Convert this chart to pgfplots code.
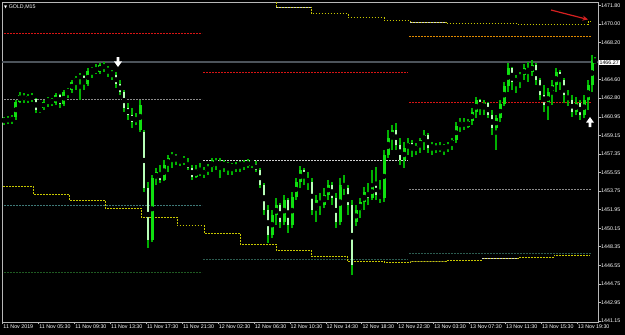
\documentclass[border=0pt]{standalone}
\usepackage{fontspec}
\setmainfont{Liberation Sans}
\newfontfamily\dejavu{DejaVu Sans}
\usepackage{pgfplots}
\pgfplotsset{compat=1.18}
\usepackage{pgfplotstable}
\usetikzlibrary{arrows.meta}

\definecolor{wick}{HTML}{00B000}
\definecolor{bullbody}{HTML}{10E010}
\definecolor{bearbody}{HTML}{B8FFB8}
\definecolor{frame}{HTML}{B8B8B8}
\definecolor{bidline}{HTML}{4C535A}
\definecolor{lvred}{HTML}{D81414}
\definecolor{lvgray}{HTML}{8A8A8A}
\definecolor{lvwhite}{HTML}{D0D0D0}
\definecolor{lvteal}{HTML}{3F7A78}
\definecolor{lvteal2}{HTML}{2C5C50}
\definecolor{lvdkgreen}{HTML}{1F5A22}
\definecolor{lvorange}{HTML}{E08A00}
\definecolor{stepyel}{HTML}{C8C800}
\definecolor{stepdim}{HTML}{6E6E22}
\definecolor{arrowred}{HTML}{D42020}

\pgfdeclareplotmark{dnarrow}{%
  \pgfpathmoveto{\pgfqpoint{-1.3pt}{5pt}}%
  \pgfpathlineto{\pgfqpoint{1.3pt}{5pt}}%
  \pgfpathlineto{\pgfqpoint{1.3pt}{0.6pt}}%
  \pgfpathlineto{\pgfqpoint{4pt}{0.6pt}}%
  \pgfpathlineto{\pgfqpoint{0pt}{-5pt}}%
  \pgfpathlineto{\pgfqpoint{-4pt}{0.6pt}}%
  \pgfpathlineto{\pgfqpoint{-1.3pt}{0.6pt}}%
  \pgfpathclose\pgfusepathqfill}
\pgfdeclareplotmark{uparrow}{%
  \pgfpathmoveto{\pgfqpoint{-1.3pt}{-5pt}}%
  \pgfpathlineto{\pgfqpoint{1.3pt}{-5pt}}%
  \pgfpathlineto{\pgfqpoint{1.3pt}{-0.6pt}}%
  \pgfpathlineto{\pgfqpoint{4pt}{-0.6pt}}%
  \pgfpathlineto{\pgfqpoint{0pt}{5pt}}%
  \pgfpathlineto{\pgfqpoint{-4pt}{-0.6pt}}%
  \pgfpathlineto{\pgfqpoint{-1.3pt}{-0.6pt}}%
  \pgfpathclose\pgfusepathqfill}

\pgfplotstableread{
x o h l c
4 1460.47 1460.95 1460.17 1460.85
8 1460.76 1461.05 1460.27 1460.56
12 1460.56 1461.14 1460.27 1460.95
16 1460.95 1462.60 1460.66 1462.41
20 1462.41 1463.38 1462.31 1463.09
24 1463.09 1463.28 1462.31 1462.60
28 1462.60 1463.18 1462.31 1462.99
32 1462.99 1463.28 1462.41 1462.70
36 1462.70 1462.80 1461.34 1461.63
40 1461.63 1461.92 1461.34 1461.82
44 1461.82 1462.60 1461.63 1462.41
48 1462.41 1462.89 1461.92 1462.70
52 1462.70 1462.80 1462.02 1462.31
56 1462.31 1463.28 1462.12 1463.09
60 1463.09 1463.18 1461.82 1462.21
64 1462.21 1463.57 1462.02 1463.38
68 1463.38 1463.77 1462.80 1463.57
72 1463.57 1464.54 1463.28 1464.35
76 1464.35 1464.93 1463.57 1464.74
80 1464.74 1465.22 1462.60 1464.93
84 1464.93 1465.03 1463.57 1464.15
88 1464.15 1465.71 1463.96 1465.42
92 1465.42 1465.80 1464.74 1465.61
96 1465.61 1466.10 1465.12 1465.32
100 1465.32 1466.19 1465.12 1466.00
104 1466.00 1466.29 1465.32 1465.71
108 1465.71 1465.90 1464.83 1465.32
112 1465.32 1465.51 1464.54 1465.03
116 1465.03 1465.32 1463.77 1464.15
120 1464.15 1464.54 1463.09 1463.38
124 1463.38 1463.57 1461.44 1461.82
128 1461.82 1462.31 1460.66 1461.14
132 1461.14 1461.82 1459.88 1460.47
136 1460.47 1461.34 1460.17 1460.85
140 1459.69 1462.60 1459.49 1462.12
144 1459.49 1459.69 1453.67 1454.06
148 1454.06 1454.64 1448.23 1449.01
152 1449.01 1455.32 1448.81 1455.03
156 1455.03 1456.00 1454.35 1455.61
160 1455.61 1456.29 1454.54 1454.83
164 1454.83 1456.77 1454.74 1456.29
168 1456.29 1457.26 1455.61 1456.97
172 1456.97 1457.55 1456.00 1457.26
176 1457.26 1457.36 1456.29 1456.77
180 1456.77 1457.07 1456.19 1456.97
184 1456.97 1457.16 1456.29 1456.58
188 1456.58 1456.97 1455.80 1456.00
192 1456.00 1456.29 1454.83 1455.12
196 1455.12 1456.29 1455.03 1455.80
200 1455.80 1456.48 1455.22 1455.42
204 1455.42 1456.09 1455.03 1455.80
208 1455.80 1456.38 1455.32 1456.09
212 1456.09 1456.97 1455.61 1456.77
216 1456.77 1456.97 1455.80 1456.29
220 1456.29 1456.97 1455.03 1456.58
224 1456.58 1456.77 1455.61 1456.19
228 1456.19 1456.58 1455.32 1456.38
232 1456.38 1456.48 1455.32 1456.00
236 1456.00 1456.58 1455.61 1456.29
240 1456.29 1456.68 1455.61 1456.48
244 1456.48 1456.77 1455.80 1456.19
248 1456.19 1456.87 1456.00 1456.68
252 1456.68 1456.77 1456.00 1456.38
256 1456.38 1456.68 1455.61 1455.80
260 1455.80 1456.00 1454.06 1454.35
264 1454.35 1454.54 1451.43 1451.92
268 1451.92 1452.40 1448.71 1449.49
272 1449.49 1451.92 1449.20 1451.43
276 1451.43 1453.08 1450.46 1452.40
280 1452.40 1452.60 1450.17 1450.75
284 1450.75 1453.38 1450.46 1452.89
288 1452.89 1453.08 1449.69 1450.46
292 1450.46 1453.67 1450.17 1453.18
296 1453.18 1455.03 1452.89 1454.64
300 1454.64 1456.19 1454.06 1455.80
304 1455.80 1456.00 1454.35 1455.03
308 1455.03 1455.61 1453.86 1454.64
312 1454.64 1455.03 1451.43 1451.92
316 1451.92 1453.38 1450.75 1452.89
320 1452.89 1453.57 1451.43 1452.40
324 1452.40 1454.06 1452.11 1453.38
328 1453.38 1454.83 1452.89 1454.35
332 1454.35 1454.64 1452.40 1453.08
336 1453.08 1453.57 1450.17 1450.75
340 1450.75 1455.03 1450.46 1454.35
344 1454.35 1455.32 1453.38 1454.06
348 1454.06 1454.35 1451.43 1452.40
352 1452.40 1452.89 1445.61 1446.58
356 1450.75 1452.40 1450.37 1451.92
360 1451.92 1453.08 1451.14 1452.70
364 1452.70 1454.15 1451.92 1453.67
368 1453.67 1454.54 1452.40 1453.08
372 1453.08 1455.80 1452.89 1454.35
376 1454.35 1456.09 1452.89 1453.38
380 1453.38 1454.83 1452.60 1453.08
384 1453.08 1457.75 1452.70 1457.26
388 1457.26 1459.69 1456.97 1458.91
392 1458.91 1460.17 1457.75 1459.69
396 1459.69 1460.37 1457.75 1458.23
400 1458.23 1458.91 1456.29 1456.77
404 1456.77 1458.52 1456.00 1457.94
408 1457.94 1458.91 1457.26 1458.43
412 1458.43 1458.72 1457.07 1457.75
416 1457.75 1458.43 1457.26 1458.13
420 1458.13 1458.91 1457.45 1458.72
424 1458.72 1459.69 1457.75 1459.20
428 1459.20 1459.40 1457.45 1457.94
432 1457.94 1458.52 1457.26 1458.23
436 1458.23 1458.43 1457.45 1457.75
440 1457.75 1458.52 1457.55 1458.13
444 1458.13 1458.33 1457.26 1457.94
448 1457.94 1458.52 1457.55 1458.23
452 1458.23 1458.91 1457.75 1458.72
456 1458.72 1460.46 1458.43 1460.08
460 1460.08 1460.85 1459.49 1460.46
464 1460.46 1460.85 1459.69 1459.98
468 1459.98 1460.76 1459.88 1460.56
472 1460.56 1461.82 1460.17 1461.44
476 1461.44 1462.89 1460.85 1462.60
480 1462.60 1462.70 1461.14 1461.82
484 1461.82 1462.60 1461.14 1462.31
488 1462.31 1462.41 1460.85 1461.14
492 1461.14 1461.63 1459.20 1459.88
496 1459.88 1461.14 1457.75 1460.85
500 1460.85 1462.60 1460.46 1462.21
504 1462.21 1464.35 1462.02 1463.96
508 1463.96 1466.19 1463.38 1465.71
512 1465.71 1465.80 1463.57 1464.35
516 1464.35 1465.03 1463.28 1464.74
520 1464.74 1465.32 1463.77 1465.03
524 1465.03 1466.10 1464.54 1465.71
528 1465.71 1466.29 1464.35 1465.32
532 1465.32 1466.48 1464.93 1466.00
536 1466.00 1466.19 1464.06 1464.54
540 1464.54 1464.74 1462.60 1463.09
544 1463.09 1464.06 1461.44 1462.12
548 1462.12 1463.77 1460.66 1463.38
552 1463.38 1464.54 1462.12 1464.06
556 1464.06 1465.71 1463.38 1465.32
560 1465.32 1465.51 1463.57 1464.54
564 1464.54 1464.74 1462.31 1463.09
568 1463.09 1463.57 1462.02 1462.60
572 1462.60 1463.09 1460.95 1461.44
576 1461.44 1462.89 1461.14 1462.31
580 1462.31 1462.60 1460.66 1461.14
584 1461.14 1463.09 1460.85 1462.60
588 1462.60 1464.54 1461.63 1464.06
592 1464.06 1466.97 1463.38 1466.48
595 1466.48 1466.78 1466.10 1466.27
}\candles

\tikzset{lev/.style={line width=0.9pt, dash pattern=on 1.6pt off 1.4pt},
         stp/.style={line width=0.9pt, dash pattern=on 1.6pt off 1.4pt}}

\begin{document}
\begin{tikzpicture}
\useasboundingbox (0,0) rectangle (625pt,335pt);
\clip (0,0) rectangle (625pt,335pt);
\fill[black] (0,0) rectangle (625pt,335pt);
\begin{axis}[
  at={(2pt,13pt)}, anchor=south west,
  scale only axis, width=596pt, height=320pt,
  xmin=2, xmax=598, ymin=1441.04, ymax=1472.12,
  axis background/.style={fill=black},
  axis line style={draw=frame, line width=0.9pt},
  tick style={draw=frame, line width=0.6pt},
  tick align=outside, major tick length=2.5pt,
  xtick pos=bottom, ytick pos=right, yticklabel pos=right,
  xtick={2.7,38.6,74.5,110.4,146.3,182.2,218.1,254,289.9,325.8,361.7,397.6,433.5,469.4,505.3,541.2,577.1},
  xticklabels={11 Nov 2019,11 Nov 05:30,11 Nov 09:30,11 Nov 13:30,11 Nov 17:30,11 Nov 21:30,12 Nov 02:30,12 Nov 06:30,12 Nov 10:30,12 Nov 14:30,12 Nov 18:30,12 Nov 22:30,13 Nov 03:30,13 Nov 07:30,13 Nov 11:30,13 Nov 15:30,13 Nov 19:30},
  xticklabel style={font=\fontsize{5.3}{6}\selectfont, text=white, anchor=north west, inner sep=0pt, xshift=0.6pt, yshift=-0.5pt},
  ytick={1471.80,1470.00,1468.20,1464.60,1462.80,1460.95,1459.15,1457.35,1455.55,1453.75,1451.95,1450.15,1448.35,1446.55,1444.75,1442.95,1441.15},
  yticklabels={1471.80,1470.00,1468.20,1464.60,1462.80,1460.95,1459.15,1457.35,1455.55,1453.75,1451.95,1450.15,1448.35,1446.55,1444.75,1442.95,1441.15},
  yticklabel style={font=\fontsize{5.3}{6}\selectfont, text=white, anchor=west, inner sep=0pt, xshift=0.5pt},
]
% --- daily levels ---
\addplot[lev, lvred] coordinates {(4,1469.11) (202,1469.11)};
\addplot[lev, lvgray] coordinates {(4,1462.70) (202,1462.70)};
\addplot[lev, lvteal] coordinates {(4,1452.40) (202,1452.40)};
\addplot[lev, lvdkgreen] coordinates {(4,1445.90) (202,1445.90)};
\addplot[lev, lvred] coordinates {(203,1465.32) (408,1465.32)};
\addplot[lev, lvwhite] coordinates {(203,1456.77) (408,1456.77)};
\addplot[lev, lvteal2] coordinates {(203,1447.16) (408,1447.16)};
\addplot[lev, lvorange] coordinates {(409,1468.81) (591,1468.81)};
\addplot[lev, lvred] coordinates {(409,1462.41) (591,1462.41)};
\addplot[lev, lvgray] coordinates {(409,1453.96) (591,1453.96)};
\addplot[lev, lvteal2] coordinates {(409,1447.65) (591,1447.65)};
% --- lower stepped line ---
\addplot[stp, stepyel, const plot] coordinates {(3,1454.22) (33,1453.47) (69,1452.86) (105,1452.08) (141,1451.21) (177,1450.39) (204,1449.66) (240,1448.59) (276,1448.01) (311,1447.42) (347,1446.94) (384,1446.84) (410,1446.90) (446,1447.04) (482,1447.23) (518,1447.33) (554,1447.52) (590,1447.52)};
\addplot[stp, stepdim] coordinates {(410,1446.90) (446,1446.90)};
\addplot[stp, lvwhite] coordinates {(482,1447.23) (518,1447.23)};
% --- upper stepped line ---
\addplot[stp, stepyel, const plot] coordinates {(272,1472.60) (276,1471.63) (311,1471.02) (348,1470.63) (384,1470.34) (410,1470.14) (446,1470.05) (518,1469.95) (588,1470.24) (591,1470.24)};
\addplot[stp, lvwhite] coordinates {(276,1471.63) (311,1471.63)};
\addplot[stp, lvwhite] coordinates {(410,1470.14) (446,1470.14)};
% --- bid line ---
\addplot[bidline, line width=1.6pt] coordinates {(2,1466.27) (598,1466.27)};
% --- candles ---
\addplot[only marks, mark=none, error bars/.cd, y dir=both, y explicit, error mark=none,
  error bar style={draw=wick, line width=1.2pt}]
  table[x=x, y expr={(\thisrow{h}+\thisrow{l})/2}, y error expr={(\thisrow{h}-\thisrow{l})/2}] {\candles};
\addplot[only marks, mark=none, error bars/.cd, y dir=both, y explicit, error mark=none,
  error bar style={draw=bullbody, line width=3pt}]
  table[x=x, y expr={(\thisrow{o}+\thisrow{c})/2}, y error expr={max(\thisrow{c}-\thisrow{o},0)/2}] {\candles};
\addplot[only marks, mark=none, error bars/.cd, y dir=both, y explicit, error mark=none,
  error bar style={draw=bearbody, line width=2.4pt}]
  table[x=x, y expr={(\thisrow{o}+\thisrow{c})/2}, y error expr={max(\thisrow{o}-\thisrow{c},0)/2}] {\candles};
% --- signal arrows ---
\addplot[only marks, mark=dnarrow, mark options={fill=white, draw=none}] coordinates {(118,1466.29)};
\addplot[only marks, mark=uparrow, mark options={fill=white, draw=none}] coordinates {(590,1460.46)};
\addplot[arrowred, line width=1.2pt, -{Stealth[length=5.5pt,width=5pt]}] coordinates {(551,1471.34) (588,1470.42)};
\coordinate (pbox) at (axis cs:598,1466.27);
\coordinate (ttl) at (axis cs:4,1471.63);
\end{axis}
\node[fill=white, text=black, inner xsep=0.9pt, inner ysep=0.7pt, anchor=west,
  font=\fontsize{5.3}{6}\selectfont] at ([xshift=0.5pt]pbox) {1466.27};
\node[anchor=west, text=white, inner sep=0pt, font=\fontsize{5.3}{6}\selectfont]
  at (ttl) {{\dejavu\fontsize{4}{5}\selectfont ▼}\hspace{1.5pt}GOLD,M15};
\end{tikzpicture}
\end{document}
